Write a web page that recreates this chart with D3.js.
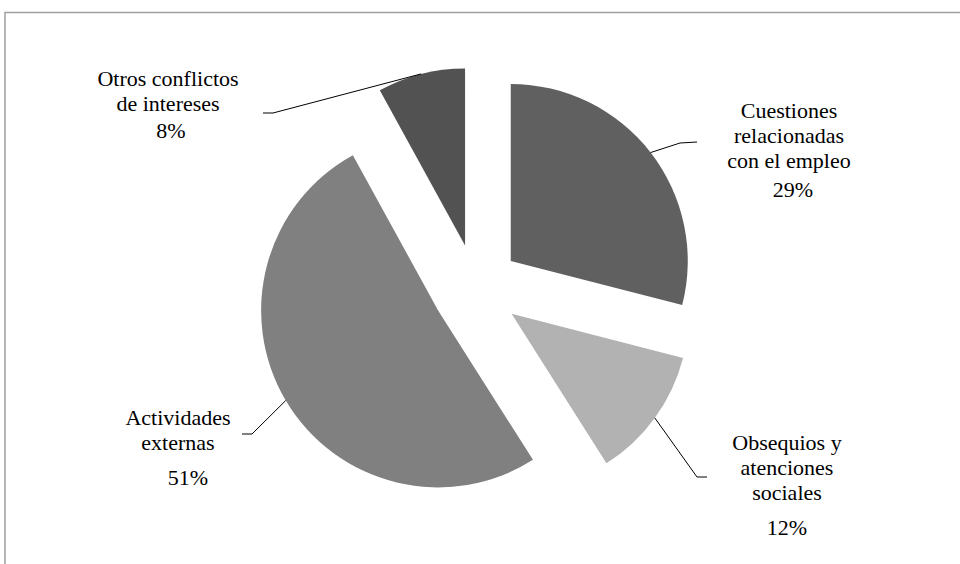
<!DOCTYPE html>
<html>
<head>
<meta charset="utf-8">
<script src="https://cdn.jsdelivr.net/npm/d3@7"></script>
<style>
  body { margin: 0; background: #fff; }
  #chart text { font-family: "Liberation Serif", "Times New Roman", serif; font-size: 22px; fill: #000; }
</style>
</head>
<body>
<div id="chart"></div>
<script>
// data
const categories = ["Cuestiones relacionadas con el empleo", "Obsequios y atenciones sociales", "Actividades externas", "Otros conflictos de intereses"];
const labelLines = [
  ["Cuestiones", "relacionadas", "con el empleo"],
  ["Obsequios y", "atenciones", "sociales"],
  ["Actividades", "externas"],
  ["Otros conflictos", "de intereses"]
];
const values = [29, 12, 51, 8];
const colors = ["#606060", "#b2b2b2", "#808080", "#525252"];

// layout
const width = 960, height = 564;
const cx = 476, cy = 288, radius = 177, explode = 44;
// label anchor (center x, first baseline), pct offset, leader elbow
const labelPos = [
  { x: 789, y: 118, px: 4, py: 29, bend: [680, 143], end: [697, 142] },
  { x: 787, y: 450, px: 0, py: 35, bend: [697, 477], end: [707, 477] },
  { x: 178, y: 425, px: 10, py: 35, bend: [252, 434], end: [242, 434] },
  { x: 168, y: 86, px: 3, py: 27, bend: [273, 113], end: [263, 113] }
];

const svg = d3.select("#chart").append("svg")
  .attr("width", width).attr("height", height);

// frame
svg.append("path")
  .attr("d", `M5,${height} L5,12.5 L${width},12.5`)
  .attr("fill", "none").attr("stroke", "#a0a0a0").attr("stroke-width", 1.5);

const pie = d3.pie().sort(null).value((d) => d)(values);
const arc = d3.arc().innerRadius(0).outerRadius(radius);

const g = svg.append("g").attr("transform", `translate(${cx},${cy})`);

pie.forEach((d, i) => {
  const mid = (d.startAngle + d.endAngle) / 2;
  const ox = Math.sin(mid) * explode, oy = -Math.cos(mid) * explode;
  g.append("path")
    .attr("d", arc(d))
    .attr("transform", `translate(${ox},${oy})`)
    .attr("fill", colors[i]);

  // leader line
  const sx = cx + ox + Math.sin(mid) * radius;
  const sy = cy + oy - Math.cos(mid) * radius;
  const lp = labelPos[i];
  svg.append("polyline")
    .attr("points", [[sx, sy], lp.bend, lp.end].map((p) => p.join(",")).join(" "))
    .attr("fill", "none").attr("stroke", "#000").attr("stroke-width", 1);

  // label
  const t = svg.append("text").attr("text-anchor", "middle");
  labelLines[i].forEach((line, j) => {
    t.append("tspan").attr("x", lp.x).attr("y", lp.y + j * 25).text(line);
  });
  svg.append("text")
    .attr("text-anchor", "middle")
    .attr("x", lp.x + lp.px)
    .attr("y", lp.y + (labelLines[i].length - 1) * 25 + lp.py)
    .text(values[i] + "%");
});
</script>
</body>
</html>
